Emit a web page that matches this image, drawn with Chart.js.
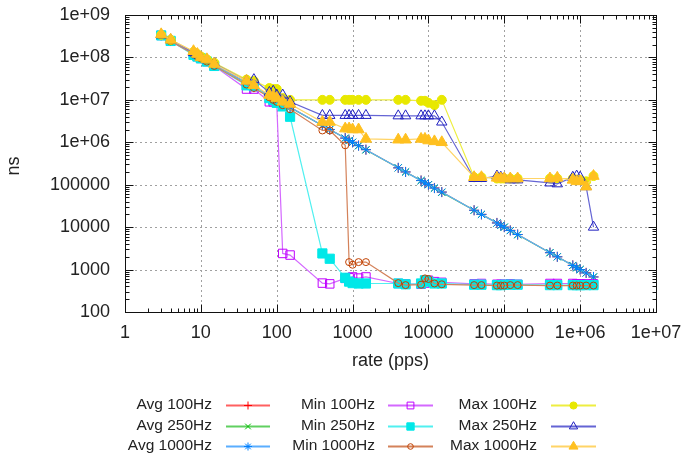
<!DOCTYPE html>
<html>
<head>
<meta charset="utf-8">
<script src="https://cdn.jsdelivr.net/npm/chart.js@4/dist/chart.umd.min.js"></script>
<style>
  html, body { margin: 0; padding: 0; background: #fff; }
  #wrap { width: 682px; height: 454px; position: relative; }
</style>
</head>
<body>
<div id="wrap"><canvas id="chart"></canvas></div>
<script>
// rate (pps) for every measured point
const rates = [3, 4, 8, 9, 10, 12, 15, 40, 50, 80, 90, 100, 120, 150,
  400, 500, 800, 900, 1000, 1200, 1500, 4000, 5000, 8000, 9000, 10000, 12000, 15000,
  40000, 50000, 80000, 90000, 100000, 120000, 150000,
  400000, 500000, 800000, 900000, 1000000, 1200000, 1500000];

// ns values
const avg100 = [3.35e8, 2.5e8, 1.26e8, 1.1e8, 1.0e8, 8.4e7, 6.7e7, 2.5e7, 2.0e7, 1.26e7, 1.1e7, 1.0e7, 8.4e6, 6.7e6,
  2.5e6, 2.0e6, 1.26e6, 1.1e6, 1.0e6, 8.4e5, 6.7e5, 2.5e5, 2.0e5, 1.26e5, 1.1e5, 1.0e5, 8.4e4, 6.7e4,
  2.5e4, 2.0e4, 1.26e4, 1.1e4, 1.0e4, 8400, 6700, 2500, 2000, 1260, 1110, 1000, 840, 670];
const avg250 = [3.3e8, 2.5e8, 1.25e8, 1.1e8, 1.0e8, 8.3e7, 6.6e7, 2.5e7, 2.0e7, 1.25e7, 1.1e7, 1.0e7, 8.3e6, 6.6e6,
  2.5e6, 2.0e6, 1.25e6, 1.1e6, 1.0e6, 8.3e5, 6.6e5, 2.5e5, 2.0e5, 1.25e5, 1.1e5, 1.0e5, 8.3e4, 6.6e4,
  2.5e4, 2.0e4, 1.25e4, 1.1e4, 1.0e4, 8300, 6600, 2500, 2000, 1250, 1100, 1000, 830, 670];
const avg1000 = [3.3e8, 2.5e8, 1.25e8, 1.1e8, 1.0e8, 8.3e7, 6.7e7, 2.5e7, 2.0e7, 1.25e7, 1.1e7, 1.0e7, 8.3e6, 6.7e6,
  2.5e6, 2.0e6, 1.25e6, 1.1e6, 1.0e6, 8.3e5, 6.7e5, 2.5e5, 2.0e5, 1.25e5, 1.1e5, 1.0e5, 8.3e4, 6.7e4,
  2.5e4, 2.0e4, 1.25e4, 1.1e4, 1.0e4, 8300, 6700, 2500, 2000, 1250, 1100, 1000, 830, 670];
const min100 = [3.3e8, 2.4e8, 1.2e8, 1.05e8, 9.5e7, 8.0e7, 6.3e7, 1.8e7, 1.8e7, 9.0e6, 9.0e6, 8.5e6, 2400, 2200,
  480, 460, 620, 640, 670, 630, 670, 470, 460, 450, 480, 560, 520, 500,
  460, 470, 450, 450, 450, 460, 450, 470, 470, 470, 460, 460, 460, 460];
const min250 = [3.3e8, 2.45e8, 1.15e8, 1.05e8, 9.5e7, 8.0e7, 6.3e7, 2.2e7, 2.1e7, 1.1e7, 1.0e7, 8.5e6, 7.0e6, 4.0e6,
  2400, 1800, 640, 520, 480, 470, 470, 470, 450, 470, 560, 520, 470, 470,
  440, 440, 430, 430, 440, 440, 440, 430, 430, 430, 430, 430, 430, 430];
const min1000 = [3.3e8, 2.4e8, 1.2e8, 1.05e8, 9.5e7, 8.0e7, 6.3e7, 2.3e7, 1.9e7, 1.15e7, 1.0e7, 9.0e6, 7.5e6, 6.0e6,
  1.9e6, 1.9e6, 8.5e5, 1500, 1300, 1500, 1500, 480, 430, 440, 620, 600, 470, 450,
  430, 430, 420, 420, 420, 430, 430, 420, 420, 420, 420, 420, 420, 420];
const max100 = [3.4e8, 2.6e8, 1.35e8, 1.2e8, 1.05e8, 9.0e7, 7.5e7, 3.0e7, 2.8e7, 1.9e7, 1.8e7, 1.8e7, 1.1e7, 1.0e7,
  1.0e7, 1.0e7, 1.0e7, 1.0e7, 1.0e7, 1.0e7, 1.0e7, 1.0e7, 1.0e7, 9.5e6, 9.5e6, 8.5e6, 7.5e6, 1.0e7,
  1.5e5, 1.5e5, 1.4e5, 1.4e5, 1.4e5, 1.4e5, 1.4e5, 1.4e5, 1.4e5, 1.4e5, 1.3e5, 1.3e5, 1.2e5, 1.6e5];
const max250 = [3.4e8, 2.6e8, 1.3e8, 1.15e8, 1.0e8, 8.8e7, 7.2e7, 2.8e7, 3.0e7, 1.5e7, 1.6e7, 1.3e7, 1.3e7, 9.0e6,
  4.3e6, 4.3e6, 4.3e6, 4.3e6, 4.3e6, 4.3e6, 4.3e6, 4.2e6, 4.2e6, 4.2e6, 4.2e6, 4.2e6, 4.2e6, 3.0e6,
  1.4e5, 1.4e5, 1.6e5, 1.5e5, 1.4e5, 1.3e5, 1.3e5, 1.1e5, 1.05e5, 1.5e5, 1.6e5, 1.5e5, 9.0e4, 1.0e4];
const max1000 = [3.5e8, 2.6e8, 1.4e8, 1.2e8, 1.0e8, 9.0e7, 7.0e7, 2.8e7, 2.2e7, 1.3e7, 1.2e7, 1.1e7, 9.0e6, 8.0e6,
  3.0e6, 3.0e6, 2.1e6, 2.1e6, 2.0e6, 2.0e6, 1.2e6, 1.15e6, 1.15e6, 1.2e6, 1.2e6, 1.1e6, 1.05e6, 1.0e6,
  1.5e5, 1.5e5, 1.45e5, 1.4e5, 1.4e5, 1.4e5, 1.4e5, 1.4e5, 1.45e5, 1.3e5, 1.2e5, 1.2e5, 9.0e4, 1.6e5];

const xTicks = [1, 10, 100, 1000, 10000, 100000, 1e6, 1e7];
const xTickLabels = ['1', '10', '100', '1000', '10000', '100000', '1e+06', '1e+07'];
const yTicks = [100, 1000, 10000, 100000, 1e6, 1e7, 1e8, 1e9];
const yTickLabels = ['100', '1000', '10000', '100000', '1e+06', '1e+07', '1e+08', '1e+09'];

// colour = marker colour, line = the lighter connecting line
const series = [
  { label: 'Avg 100Hz',  values: avg100,  color: '#ff0000', line: '#ff6060', style: 'cross',    r: 5,   open: true },
  { label: 'Avg 250Hz',  values: avg250,  color: '#00c000', line: '#60d060', style: 'crossRot', r: 5,   open: true },
  { label: 'Avg 1000Hz', values: avg1000, color: '#0080ff', line: '#5aaeff', style: 'star',     r: 5,   open: true },
  { label: 'Min 100Hz',  values: min100,  color: '#c000ff', line: '#d468ff', style: 'rect',     r: 6,   open: true },
  { label: 'Min 250Hz',  values: min250,  color: '#00e8e8', line: '#50f0f0', style: 'rect',     r: 6.5, open: false },
  { label: 'Min 1000Hz', values: min1000, color: '#c04000', line: '#d4825a', style: 'circle',   r: 3.5, open: true },
  { label: 'Max 100Hz',  values: max100,  color: '#e8e800', line: '#eeee40', style: 'circle',   r: 4.5, open: false },
  { label: 'Max 250Hz',  values: max250,  color: '#2020c0', line: '#6464d4', style: 'triangle', r: 6,   open: true },
  { label: 'Max 1000Hz', values: max1000, color: '#ffc020', line: '#ffd466', style: 'triangle', r: 6.5, open: false }
];

const FONT = '"Liberation Sans", Arial, sans-serif';
const TEXT = '#222';
Chart.defaults.font.family = FONT;

const datasets = series.map((s, i) => ({
  label: s.label,
  data: rates.map((r, j) => ({ x: r, y: s.values[j] })),
  borderColor: s.line,
  borderWidth: 1.2,
  pointStyle: s.style,
  pointRadius: s.r,
  pointBorderWidth: 1,
  pointBorderColor: s.color,
  pointBackgroundColor: s.open ? 'rgba(0,0,0,0)' : s.color,
  tension: 0,
  fill: false,
  order: series.length - i
}));

function drawMarker(ctx, s, x, y) {
  ctx.save();
  ctx.strokeStyle = s.color;
  ctx.fillStyle = s.open ? 'rgba(0,0,0,0)' : s.color;
  ctx.lineWidth = 1;
  Chart.helpers.drawPoint(ctx, { pointStyle: s.style, radius: s.r * 0.8, rotation: 0, borderWidth: 1 }, x, y);
  ctx.restore();
}

const gnuFrame = {
  id: 'gnuFrame',
  beforeDatasetsDraw(chart) {
    const { ctx, chartArea: a, scales: { x, y } } = chart;
    ctx.save();
    ctx.strokeStyle = '#a0a0a0';
    ctx.lineWidth = 1;
    ctx.setLineDash([2, 3]);
    xTicks.slice(1, -1).forEach(v => {
      const px = Math.round(x.getPixelForValue(v)) + 0.5;
      ctx.beginPath(); ctx.moveTo(px, a.bottom); ctx.lineTo(px, a.top); ctx.stroke();
    });
    yTicks.slice(1, -1).forEach(v => {
      const py = Math.round(y.getPixelForValue(v)) + 0.5;
      ctx.beginPath(); ctx.moveTo(a.left, py); ctx.lineTo(a.right, py); ctx.stroke();
    });
    ctx.restore();
  },
  afterDatasetsDraw(chart) {
    const { ctx, chartArea: a, scales: { x, y } } = chart;
    ctx.save();
    ctx.strokeStyle = '#111';
    ctx.lineWidth = 1;
    const L = Math.round(a.left) + 0.5, R = Math.round(a.right) + 0.5;
    const T = Math.round(a.top) + 0.5, B = Math.round(a.bottom) + 0.5;
    ctx.beginPath();
    xTicks.forEach((d, i) => {
      for (let k = 1; k < 10; k++) {
        if (i === xTicks.length - 1 && k > 1) break;
        const px = Math.round(x.getPixelForValue(d * k)) + 0.5;
        const len = k === 1 ? 8 : 4;
        ctx.moveTo(px, B); ctx.lineTo(px, B - len);
        ctx.moveTo(px, T); ctx.lineTo(px, T + len);
      }
    });
    yTicks.forEach((d, i) => {
      for (let k = 1; k < 10; k++) {
        if (i === yTicks.length - 1 && k > 1) break;
        const py = Math.round(y.getPixelForValue(d * k)) + 0.5;
        const len = k === 1 ? 8 : 4;
        ctx.moveTo(L, py); ctx.lineTo(L + len, py);
        ctx.moveTo(R, py); ctx.lineTo(R - len, py);
      }
    });
    ctx.stroke();
    ctx.strokeRect(L, T, R - L, B - T);
    ctx.restore();
  },
  afterDraw(chart) {
    const { ctx, chartArea: a, scales: { x, y } } = chart;
    ctx.save();
    ctx.fillStyle = TEXT;
    ctx.font = '18px ' + FONT;
    ctx.textBaseline = 'middle';

    // tick labels
    ctx.textAlign = 'center';
    xTicks.forEach((v, i) => ctx.fillText(xTickLabels[i], x.getPixelForValue(v), a.bottom + 21));
    ctx.textAlign = 'right';
    yTicks.forEach((v, i) => ctx.fillText(yTickLabels[i], a.left - 15, y.getPixelForValue(v)));

    // axis titles
    ctx.textAlign = 'center';
    ctx.fillText('rate (pps)', (a.left + a.right) / 2, 361);
    ctx.save();
    ctx.translate(14, 166);
    ctx.rotate(-Math.PI / 2);
    ctx.fillText('ns', 0, 0);
    ctx.restore();

    // gnuplot style key: three columns, text right-aligned then sample
    const cols = [{ t: 212, x0: 226, x1: 270 }, { t: 375, x0: 388, x1: 433 }, { t: 537, x0: 551, x1: 596 }];
    const rows = [405, 425.5, 446];
    ctx.font = '15.5px ' + FONT;
    ctx.textAlign = 'right';
    series.forEach((s, i) => {
      const c = cols[Math.floor(i / 3)], ry = rows[i % 3];
      ctx.fillStyle = TEXT;
      ctx.fillText(s.label, c.t, ry);
      const ly = Math.round(ry) + 0.5;
      ctx.strokeStyle = s.line;
      ctx.lineWidth = 2;
      ctx.beginPath();
      ctx.moveTo(c.x0, ly); ctx.lineTo(c.x1, ly);
      ctx.stroke();
      drawMarker(ctx, s, (c.x0 + c.x1) / 2, ly);
    });
    ctx.restore();
  }
};

new Chart(document.getElementById('chart'), {
  type: 'line',
  data: { datasets },
  options: {
    responsive: true,
    maintainAspectRatio: false,
    animation: false,
    layout: { padding: { top: 15, right: 26, left: 0, bottom: 0 } },
    plugins: { legend: { display: false }, tooltip: { enabled: false } },
    scales: {
      x: {
        type: 'logarithmic',
        min: 1, max: 1e7,
        grid: { display: false },
        border: { display: false },
        ticks: { display: false },
        afterFit: s => { s.height = 142; }
      },
      y: {
        type: 'logarithmic',
        min: 100, max: 1e9,
        grid: { display: false },
        border: { display: false },
        ticks: { display: false },
        afterFit: s => { s.width = 125; }
      }
    }
  },
  plugins: [gnuFrame]
});
</script>
</body>
</html>
